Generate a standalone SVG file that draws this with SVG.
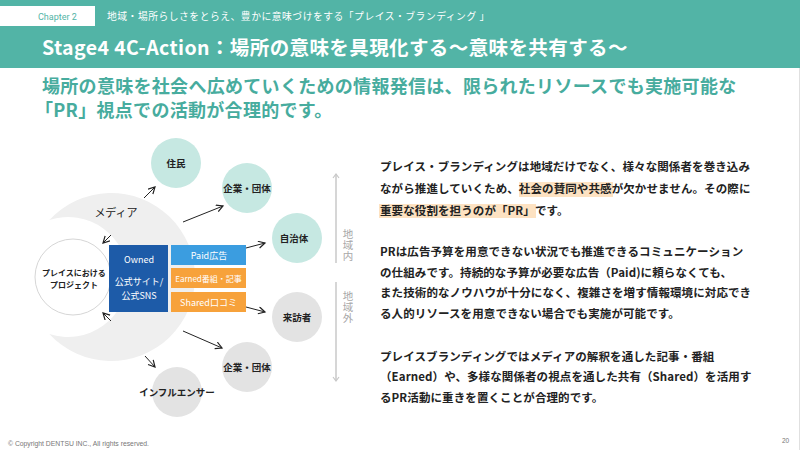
<svg xmlns="http://www.w3.org/2000/svg" width="800" height="450" viewBox="0 0 800 450">
<style>
.jp{font-family:"Noto Sans CJK JP","Noto Sans",sans-serif}
.body{font-family:"Noto Sans CJK JP","Noto Sans",sans-serif;font-size:11.5px;font-weight:700;fill:#222;letter-spacing:0.1px}
.node{font-family:"Noto Sans CJK JP","Noto Sans",sans-serif;font-size:9.5px;font-weight:700;fill:#222;text-anchor:middle}
.proj{font-family:"Noto Sans CJK JP","Noto Sans",sans-serif;font-size:8px;font-weight:700;fill:#222;text-anchor:middle}
.box{font-family:"Noto Sans CJK JP","Noto Sans",sans-serif;font-size:9px;fill:#fff;text-anchor:middle}
.boxs{font-family:"Noto Sans CJK JP","Noto Sans",sans-serif;font-size:8px;fill:#fff;text-anchor:middle}
.conn{stroke:#222;stroke-width:1;fill:none;marker-end:url(#ah)}
.axis{stroke:#c8c8c8;stroke-width:1.5;fill:none}
.vlab{font-family:"Noto Sans CJK JP","Noto Sans",sans-serif;font-size:10.5px;fill:#a8a8a8;writing-mode:vertical-rl;letter-spacing:0.5px}
.teal{fill:#c6e8e2}
.gray{fill:#e3e3e3}
.hl{fill:#fde2c2}
</style>
<defs>
<marker id="ah" markerUnits="userSpaceOnUse" markerWidth="10" markerHeight="10" refX="7" refY="4" orient="auto">
<path d="M0.5,0.5 L7,4 L0.5,7.5" fill="none" stroke="#222" stroke-width="1.2"/>
</marker>
<marker id="ax" markerUnits="userSpaceOnUse" markerWidth="10" markerHeight="10" refX="5" refY="4" orient="auto">
<path d="M1,1 L5,4 L1,7" fill="none" stroke="#c8c8c8" stroke-width="1.2"/>
</marker>
</defs>
<rect width="800" height="450" fill="#fff"/>
<g id="header">
<rect x="0" y="0" width="800" height="68" fill="#52b4a6"/>
<rect x="0" y="6" width="95" height="20" fill="#fff"/>
<text x="38" y="20" font-family="Roboto,'Liberation Sans',sans-serif" font-size="9" fill="#52b4a6">Chapter 2</text>
<text x="107" y="20" class="jp" font-size="9.8" fill="#fff" letter-spacing="0.5">地域・場所らしさをとらえ、豊かに意味づけをする「プレイス・ブランディング 」</text>
<text x="42" y="55" class="jp" font-size="19.5" font-weight="700" fill="#fff" letter-spacing="0.4">Stage4 4C-Action：場所の意味を具現化する～意味を共有する～</text>
</g>
<g id="lead">
<text x="42" y="93" class="jp" font-size="18" font-weight="700" fill="#47ac9e" letter-spacing="0.3">場所の意味を社会へ広めていくための情報発信は、限られたリソースでも実施可能な</text>
<text x="35" y="117" class="jp" font-size="18" font-weight="700" fill="#47ac9e" letter-spacing="0.3">「PR」視点での活動が合理的です。</text>
</g>
<g id="media">
<path d="M49.3,220 A84,84 0 1,1 49.3,334 A60,60 0 1,0 49.3,220 Z" fill="#efefef"/>
<text x="116" y="217" class="jp" font-size="11" fill="#222" text-anchor="middle">メディア</text>
</g>
<g id="project">
<circle cx="73" cy="277" r="38" fill="#fff" stroke="#d6d6d6" stroke-width="1"/>
<text x="74" y="276" class="proj">プレイスにおける</text>
<text x="74" y="288" class="proj">プロジェクト</text>
</g>
<g id="owned">
<rect x="109" y="245" width="59" height="67" fill="#1d5ba8"/>
<text x="139" y="263" class="box">Owned</text>
<text x="139" y="285" class="box">公式サイト/</text>
<text x="139" y="299" class="box">公式SNS</text>
</g>
<g id="paid">
<rect x="171" y="245" width="75" height="20" fill="#3b9de0"/>
<text x="209" y="258.5" class="box">Paid広告</text>
</g>
<g id="earned">
<rect x="171" y="268" width="75" height="20" fill="#f7a23b"/>
<text x="208.5" y="281.5" class="boxs">Earned番組・記事</text>
</g>
<g id="shared">
<rect x="171" y="292" width="75" height="20" fill="#f7a23b"/>
<text x="208.5" y="305.5" class="box">Shared口コミ</text>
</g>
<g id="n-jumin"><circle cx="176" cy="163" r="25" class="teal"/><text x="176" y="166.5" class="node">住民</text></g>
<g id="n-kigyo1"><circle cx="247" cy="188" r="25" class="teal"/><text x="247" y="191.5" class="node">企業・団体</text></g>
<g id="n-jichitai"><circle cx="297" cy="238" r="25" class="teal"/><text x="294" y="241.5" class="node">自治体</text></g>
<g id="n-raihousha"><circle cx="297" cy="317" r="25" class="gray"/><text x="297" y="320.5" class="node">来訪者</text></g>
<g id="n-kigyo2"><circle cx="247" cy="367" r="25" class="gray"/><text x="247" y="370.5" class="node">企業・団体</text></g>
<g id="n-influencer"><circle cx="177" cy="392" r="25" class="gray"/><text x="177" y="396" class="node">インフルエンサー</text></g>
<g id="connectors">
<path class="conn" d="M144,198 L155,187"/>
<path class="conn" d="M183,222 L223,206"/>
<path class="conn" d="M246,248 L265,243"/>
<path class="conn" d="M246,307 L265,312"/>
<path class="conn" d="M183,331 L222,348"/>
<path class="conn" d="M145,356 L155,367"/>
<path class="conn" d="M111,235 L103,243"/>
<path class="conn" d="M111,321 L103,313"/>
<path class="axis" d="M336,263 L336,174" marker-end="url(#ax)"/>
<path class="axis" d="M336,282 L336,381" marker-end="url(#ax)"/>
</g>
<g id="axis-labels">
<text class="vlab" x="348" y="229">地域内</text>
<text class="vlab" x="348" y="291">地域外</text>
</g>
<g id="explanation">
<rect x="519" y="182" width="94" height="15" class="hl"/>
<rect x="379" y="204" width="157" height="14" class="hl"/>
<text x="380" y="171" class="body">プレイス・ブランディングは地域だけでなく、様々な関係者を巻き込み</text>
<text x="380" y="193" class="body">ながら推進していくため、社会の賛同や共感が欠かせません。その際に</text>
<text x="380" y="215" class="body">重要な役割を担うのが「PR」です。</text>
<text x="380" y="256" class="body">PRは広告予算を用意できない状況でも推進できるコミュニケーション</text>
<text x="380" y="277" class="body">の仕組みです。持続的な予算が必要な広告（Paid)に頼らなくても、</text>
<text x="380" y="297" class="body">また技術的なノウハウが十分になく、複雑さを増す情報環境に対応でき</text>
<text x="380" y="318" class="body">る人的リソースを用意できない場合でも実施が可能です。</text>
<text x="380" y="361" class="body">プレイスブランディングではメディアの解釈を通した記事・番組</text>
<text x="380" y="381" class="body">（Earned）や、多様な関係者の視点を通した共有（Shared）を活用す</text>
<text x="380" y="402" class="body">るPR活動に重きを置くことが合理的です。</text>
</g>
<g id="footer">
<text x="8" y="446" font-family="'Liberation Sans',Arial,sans-serif" font-size="6.8" fill="#777">© Copyright DENTSU INC., All rights reserved.</text>
<text x="782" y="443" font-family="'Liberation Sans',Arial,sans-serif" font-size="6.5" fill="#777">20</text>
<line x1="799.5" y1="68" x2="799.5" y2="450" stroke="#e0e0e0" stroke-width="1"/>
</g>
</svg>
